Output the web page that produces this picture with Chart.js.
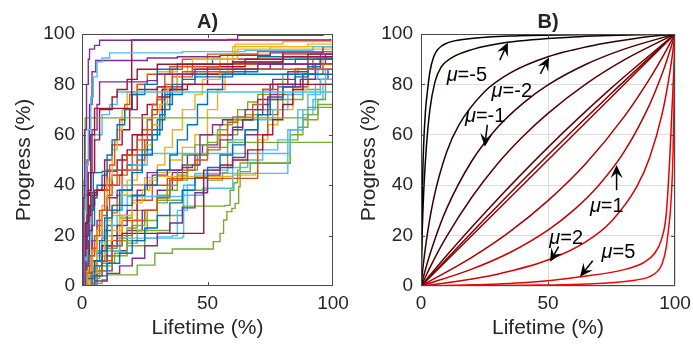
<!DOCTYPE html>
<html>
<head>
<meta charset="utf-8">
<script src="https://cdn.jsdelivr.net/npm/chart.js@4/dist/chart.umd.min.js"></script>
<style>
  html, body { margin: 0; padding: 0; background: #fff; }
  body { width: 693px; height: 347px; position: relative; overflow: hidden; }
  canvas { position: absolute; top: 0; }
  #chartA { left: 0; }
  #chartB { left: 346px; }
</style>
</head>
<body>
<canvas id="chartA" width="360" height="347"></canvas>
<canvas id="chartB" width="347" height="347"></canvas>
<script>
// ---- A) progress of each unit over its lifetime: [lifetime %, progress %] at each step ----
const trackColor = [3,5,6,3,4,3,6,5,0,1,2,6,1,0,0,3,0,2,1,3,4,6,5,1,5,5,4,4,4,2,6,3,1,2,4,0,5,6,2,3,1,0,4];
const progressTracks = [
  [[0,0],[0.5,35],[1,62],[1.8,80],[2.5,90],[3,94],[5,95.5],[7,97.5],[58,97.8],[62,99.5],[96,100]],
  [[0,0],[0.7,30],[1.5,48],[2.5,62],[3.5,75],[4.5,83],[6,89],[8,90.5],[11,92.5],[40,93],[65,93.5],[92,95],[100,97.5]],
  [[0,0],[0.5,12],[1.5,25],[2.5,38],[3.5,60],[5,70.5],[19.8,97.6],[99,98]],
  [[0,0],[1,25],[2,50],[3,72],[4,85],[5.5,89.5],[26,90.5],[38,91],[55,91.5],[75,92.5],[96,95],[100,99]],
  [[0,0],[0.4,20],[0.8,42],[1.3,66.7],[89,66.7],[90,70.9],[100,70.9]],
  [[0,0],[1,20],[2.5,45],[4,62],[6,72],[7,81],[26,81.5],[30,84],[45,86],[70,88],[95,92],[100,96]],
  [[0,0],[1,15],[2,28],[3.5,45],[5,58],[7,70],[12,75],[14,78],[18,82],[22,86],[30,88],[60,88.5],[80,91],[100,94]],
  [[0,0],[1,10],[2,25],[3.5,45],[5,60],[8,68],[11,72],[14,77],[100,77]],
  [[0,0],[1,8],[2.5,18],[3,30],[4.5,45],[8,45.5],[10,52],[12,58],[14,64],[17,70],[20,76],[25,80],[30,86],[38,88],[60,89],[80,90],[100,92]],
  [[0,0],[1,5],[3,12],[5,20],[7,30],[9,38],[11,48],[13,58],[15,66],[17,72],[19,76],[22,80],[26,84],[35,87],[55,88],[100,90]],
  [[0,0],[2,6],[4,14],[6,22],[8,32],[10,42],[12,54],[14,62],[16,70],[18,77],[22,80],[30,85],[38,88],[44,90],[60,95],[90,96],[100,98]],
  [[0,0],[1.5,10],[3,22],[4,36],[6,38],[9,50],[12,56],[16,62],[19,70],[22,78],[30,79],[40,80],[95,80],[100,83]],
  [[0,0],[2,8],[4,15],[6,24],[8,30],[11,40],[14,46],[18,52],[22,58],[26,66],[28,72],[30,79],[33,84],[40,85],[60,86],[100,88]],
  [[0,0],[2,5],[4,10],[7,18],[9,27],[12,32],[15,38],[20,45],[24,52],[28,60],[31,68],[33,76],[36,80],[45,83],[60,84],[100,86]],
  [[0,0],[5,4],[10,9],[15,13],[20,18],[25,23],[30,28],[35,33],[40,38],[45,43],[50,47],[55,52],[60,56],[65,62],[70,68],[75,74],[80,79],[85,83],[90,87],[95,90],[100,93]],
  [[0,0],[5,2],[10,5],[15,8],[20,11],[25,16],[30,21],[35,25],[40,31],[45,37],[50,44],[55,47],[60,51],[65,60],[70,68],[74,75],[80,79],[87,82],[93,88],[97,92],[100,95]],
  [[0,0],[2,3],[5,8],[8,14],[10,30],[15,32],[20,36],[25,40],[30,46],[35,52],[38,58],[42,64],[46,72],[50,78],[56,84],[65,86],[80,88],[100,90]],
  [[0,0],[3,5],[6,12],[9,18],[12,22],[16,28],[20,33],[24,38],[27,42],[30,48],[33,55],[36,62],[40,70],[45,76],[48,82],[55,92],[62,94],[100,96]],
  [[0,0],[4,4],[8,10],[12,16],[16,20],[20,26],[25,30],[30,35],[35,42],[40,46],[45,50],[50,54],[55,60],[58,65],[62,67],[68,72],[72,78],[78,80],[85,86],[92,90],[100,94]],
  [[0,0],[3,4],[6,10],[10,16],[14,24],[18,30],[22,38],[26,45],[30,46],[40,47],[44,48],[47,60],[52,64],[56,66],[60,67],[65,70],[70,74],[75,80],[82,85],[90,88],[100,92]],
  [[0,0],[3,3],[7,8],[12,12],[18,17],[22,22],[26,26],[30,33],[34,38],[38,42],[42,46],[46,52],[50,57],[54,62],[58,66],[62,70],[66,73],[70,76],[75,80],[80,84],[86,86],[92,88],[100,92]],
  [[0,0],[2,5],[5,10],[8,16],[12,20],[16,20.9],[48,20.9],[48.5,46],[55,48],[60,50],[66,54],[72,60],[76,66],[80,72],[84,78],[88,84],[93,88],[100,92]],
  [[0,0],[3,6],[6,14],[10,20],[14,28],[18,35.5],[40,36],[48,38.8],[59.4,38.8],[60,58],[65,62],[70,66],[76,70],[82,76],[88,82],[94,86],[100,90]],
  [[0,0],[4,6],[8,12],[12,18],[16,26],[22,34],[28,40],[34,42.7],[69.4,42.7],[70,60],[74,68],[78,76],[84,80],[90,84],[96,88],[100,93]],
  [[0,0],[5,8],[10,14],[15,19],[30,19.5],[36,20],[38,30],[42,40],[45,44.7],[81.5,44.7],[82,62],[86,70],[90,76],[95,82],[100,88]],
  [[0,0],[4,10],[8,20],[12,30],[16,40],[20,48],[26,52.6],[82,52.6],[83,62],[88,70],[93,80],[97,86],[100,92]],
  [[0,0],[3,1],[8,2.5],[10,4.4],[22,8.3],[29,13],[36,14.7],[51,14.7],[52.3,17.6],[55,20.9],[56.4,26.2],[57.7,29.5],[59.7,30.8],[61,32.8],[62.4,39.4],[63,45.4],[67,48.7],[82,48.7],[83,58],[86,63],[90,68],[94,74],[97,80],[100,86]],
  [[0,0],[4,4],[8,9],[13,13],[18,16],[25,22],[35,28],[40,31.7],[57,32],[59,38],[60.5,41],[62,46],[63,48.8],[82.4,48.8],[83,60],[88,66],[94,72],[100,78]],
  [[0,0],[2,5],[5,10],[9,15],[14,19],[18,23],[22,26],[26,30],[30,35],[34,40],[38,44],[42,48],[46,52],[50,55],[58,57],[100,57]],
  [[0,0],[3,8],[6,18],[9,26],[12,32],[15,36],[20,40],[25,43],[30,43.5],[60,44],[69,45],[70,58],[74,64],[78,70],[84,78],[90,86],[96,92],[100,97]],
  [[0,0],[1,8],[2,20],[3,32],[5,38],[8,40],[12,44],[16,52],[20,60],[24,68],[26,72],[30,75],[35,78],[42,80],[50,84],[60,86],[75,88],[90,92],[100,100]],
  [[0,0],[2,8],[4,18],[6,26],[8,30],[10,35],[14,38],[20,40],[28,44],[34,46],[40,48],[45,52],[50,55],[55,58],[60,62],[64,66],[68,70],[72,78],[76,82],[85,86],[95,90],[100,98]],
  [[0,0],[1,6],[3,12],[5,20],[8,28],[10,36],[12,40],[15,44],[18,46],[22,50],[25,58],[28,68],[30,74],[33,80],[36,86],[40,90],[50,92],[70,93],[100,96]],
  [[0,0],[2,4],[5,10],[9,20],[12,28],[15,36],[18,42],[22,48],[25,56],[28,64],[31,72],[34,78],[38,84],[42,88],[50,90],[62,92],[75,95],[100,99]],
  [[0,0],[5,6],[10,12],[15,18],[20,24],[25,30],[30,36],[35,42],[38,46],[40,52],[45,56],[50,60],[55,64],[60,66],[65,68],[70,70],[75,74],[80,80],[85,84],[90,88],[95,91],[100,94]],
  [[0,0],[1.5,4],[3,12],[4,24],[5,35],[6,40],[8,44],[10,45.5],[14,46],[18,48],[22,52],[26,58],[30,66],[33,72],[36,76],[40,82],[45,84],[55,85],[70,88],[85,90],[100,93]],
  [[0,0],[4,5],[8,12],[12,16],[16,18],[25,19],[40,19.5],[40.5,40],[45,44],[50,46],[58,47],[66,50],[72,54],[78,58],[83,62],[88,68],[92,74],[96,80],[100,86]],
  [[0,0],[0.5,20],[1,36],[3,37],[6,38],[10,46],[14,50],[18,54],[22,60],[28,70],[32,78],[40,84],[50,87],[65,90],[80,93],[100,96]],
  [[0,0],[5,10],[10,20],[15,28],[20,34],[25,40],[30,45],[35,50],[40,55],[45,60],[50,70],[54,78],[57,85],[58,92],[61,96],[80,97],[100,99]],
  [[0,0],[6,6],[12,14],[18,22],[24,30],[30,38],[36,45],[42,52],[48,56],[54,60],[60,63],[64,66],[68,68],[72,72],[75,76],[78,79],[90,82],[98,86],[100,92]],
  [[0,0],[2,3],[4,7],[6,13],[8,19],[10,24],[12,29],[14,36],[16,46],[20,54],[24,62],[28,70],[32,78],[36,83],[44,86],[60,90],[80,92],[100,94]],
  [[0,0],[3,6],[6,14],[9,22],[12,30],[16,38],[20,46],[24,54],[28,62],[32,70],[35,78],[38,84],[44,88],[52,90],[70,91],[100,93]],
  [[0,0],[2,6],[4,14],[6,20],[10,24],[15,27],[20,30],[30,34],[40,38],[50,42],[56,45],[58,60],[62,66],[70,70],[80,74],[88,78],[95,82],[100,88]]
];

// ---- B) model curves, from mu = -10 (top left) to mu = 10 (bottom right) ----
const modelCurves = [
  [[0,0],[0.3,20],[0.6,40],[1,55],[1.8,70],[2.5,77],[3.5,85],[5,91],[6.7,94],[10,96.3],[18,98],[35,99.2],[60,99.7],[100,100]],
  [[0,0],[0.5,22],[1.2,40],[2.1,55],[3.5,70],[5.5,81],[8,87],[12,90.5],[20,93.8],[34,96.7],[60,98.8],[100,100]],
  [[0,0],[1,9.3],[2.5,20.6],[5,34.7],[10,52.9],[15,64],[25,77.1],[35,84.5],[50,91],[70,95.9],[85,98.3],[100,100]],
  [[0,0],[2.5,9.2],[5,17.2],[10,30.5],[20,49.6],[30,62.8],[40,72.4],[50,79.8],[65,88],[80,94],[100,100]],
  [[0,0],[5,10.3],[10,19.5],[20,35.2],[30,48.3],[40,59.2],[50,68.5],[65,80.2],[80,89.7],[100,100]],
  [[0,0],[10,12],[25,28.9],[50,55],[75,78.6],[100,100]],
  [[0,0],[25,26.5],[50,52],[75,76.5],[100,100]],
  [[0,0],[50,50],[100,100]],
  [[0,0],[20,11.4],[35,21.6],[50,33.9],[65,48.75],[80,67.2],[90,82.2],[95,90.7],[100,100]],
  [[0,0],[20,6.7],[35,13.3],[50,22.2],[60,30],[70,40],[80,53.3],[90,72],[95,84.4],[97.5,91.8],[100,100]],
  [[0,0],[15,2],[30,4.7],[50,10.3],[65,17.6],[75,25.7],[85,39.5],[90,50.9],[95,68.6],[97.5,81.8],[99,91.9],[100,100]],
  [[0,0],[40,1.3],[63,3.7],[80,6.5],[88,9.5],[92,13],[94.5,18],[96.5,28],[97.9,50],[98.8,70],[99.5,85],[100,100]],
  [[0,0],[40,0.3],[65,0.8],[82,2],[90,3.7],[93.3,6],[95,9],[96.5,15],[97.5,23],[98.2,30],[99,45],[99.4,60],[99.7,80],[100,100]]
];
const muValues = [-5, -2, -1, 1, 2, 5];

// label corner and arrow (tail -> head) for each mu value, in axis units
const muNotes = [
  {at: [10.1, 81.5], tail: [31.0, 89.6], head: [34.2, 96.6]},
  {at: [27.8, 75.1], tail: [47.0, 84.2], head: [50.4, 90.7]},
  {at: [17.3, 65.0], tail: [26.1, 64.0], head: [25.1, 55.3]},
  {at: [66.5, 29.3], tail: [77.0, 38.0], head: [77.0, 48.0]},
  {at: [50.5, 16.5], tail: [54.2, 15.6], head: [50.8, 9.6]},
  {at: [71.1, 11.1], tail: [67.6, 10.0], head: [62.6, 3.7]}
];

const TEXT = '#262626';
const FONT = '"Liberation Sans", Arial, Helvetica, sans-serif';
const matlabColors = ['#0072BD', '#D95319', '#EDB120', '#7E2F8E', '#77AC30', '#4DBEEE', '#A2142F'];

Chart.defaults.font.family = FONT;
Chart.defaults.color = TEXT;

// box round the axes, inward tick marks on all four sides and the panel letter
function framePlugin(letter) {
  return {
    id: 'frame' + letter,
    afterDatasetsDraw(chart) {
      const {ctx, chartArea: a, scales} = chart;
      ctx.save();
      ctx.strokeStyle = '#4a4a4a';
      ctx.lineWidth = 1;
      ctx.beginPath();
      ctx.rect(a.left + 0.5, a.top + 0.5, a.right - a.left - 1, a.bottom - a.top - 1);
      scales.x.ticks.forEach(t => {
        let px = Math.round(scales.x.getPixelForValue(t.value)) + 0.5;
        px = Math.min(Math.max(px, a.left + 0.5), a.right - 0.5);
        ctx.moveTo(px, a.bottom); ctx.lineTo(px, a.bottom - 4);
        ctx.moveTo(px, a.top); ctx.lineTo(px, a.top + 4);
      });
      scales.y.ticks.forEach(t => {
        let py = Math.round(scales.y.getPixelForValue(t.value)) + 0.5;
        py = Math.min(Math.max(py, a.top + 0.5), a.bottom - 0.5);
        ctx.moveTo(a.left, py); ctx.lineTo(a.left + 4, py);
        ctx.moveTo(a.right, py); ctx.lineTo(a.right - 4, py);
      });
      ctx.stroke();
      ctx.fillStyle = TEXT;
      ctx.font = 'bold 20px ' + FONT;
      ctx.textAlign = 'center';
      ctx.textBaseline = 'alphabetic';
      ctx.fillText(letter + ')', (a.left + a.right) / 2, 28);
      ctx.restore();
    }
  };
}

function drawArrow(ctx, x1, y1, x2, y2) {
  const ang = Math.atan2(y2 - y1, x2 - x1);
  const c = Math.cos(ang), s = Math.sin(ang);
  const len = 13, half = 6, notch = 8;
  ctx.beginPath();
  ctx.moveTo(x1, y1);
  ctx.lineTo(x2 - notch * c, y2 - notch * s);
  ctx.stroke();
  ctx.beginPath();
  ctx.moveTo(x2, y2);
  ctx.lineTo(x2 - len * c - half * s, y2 - len * s + half * c);
  ctx.lineTo(x2 - notch * c, y2 - notch * s);
  ctx.lineTo(x2 - len * c + half * s, y2 - len * s - half * c);
  ctx.closePath();
  ctx.fill();
}

// mu labels with arrows pointing at their curves
const muPlugin = {
  id: 'muNotes',
  afterDatasetsDraw(chart) {
    const {ctx, scales: {x, y}} = chart;
    ctx.save();
    ctx.fillStyle = '#000';
    ctx.strokeStyle = '#000';
    ctx.lineWidth = 1.5;
    ctx.textBaseline = 'alphabetic';
    ctx.textAlign = 'left';
    muValues.forEach((mu, i) => {
      const n = muNotes[i];
      const px = x.getPixelForValue(n.at[0]), py = y.getPixelForValue(n.at[1]);
      ctx.font = 'italic 20px ' + FONT;
      ctx.fillText('\u03bc', px, py);
      const w = ctx.measureText('\u03bc').width;
      ctx.font = '20px ' + FONT;
      ctx.fillText('=' + mu, px + w, py);
      drawArrow(ctx,
        x.getPixelForValue(n.tail[0]), y.getPixelForValue(n.tail[1]),
        x.getPixelForValue(n.head[0]), y.getPixelForValue(n.head[1]));
    });
    ctx.restore();
  }
};

function makeScales(leftWidth, yTickPad, yTitlePad, gridOn) {
  const grid = gridOn
    ? {display: true, color: '#dcdcdc', lineWidth: 1, drawTicks: false}
    : {display: false, drawTicks: false};
  return {
    x: {
      type: 'linear', min: 0, max: 100,
      ticks: {stepSize: 50, padding: 6, maxRotation: 0, font: {size: 19}, color: TEXT},
      grid: grid,
      border: {display: false},
      title: {display: true, text: 'Lifetime (%)', color: TEXT, font: {size: 21}, padding: {top: 0, bottom: 6}},
      afterFit(s) { s.height = 61; s.paddingLeft = 0; s.paddingRight = 0; }
    },
    y: {
      type: 'linear', min: 0, max: 100,
      ticks: {stepSize: 20, padding: yTickPad, font: {size: 19}, color: TEXT},
      grid: grid,
      border: {display: false},
      title: {display: true, text: 'Progress (%)', color: TEXT, font: {size: 21}, padding: {top: yTitlePad, bottom: 0}},
      afterFit(s) { s.width = leftWidth; s.paddingTop = 0; s.paddingBottom = 0; }
    }
  };
}

const baseOptions = {
  responsive: false,
  animation: false,
  events: [],
  plugins: {legend: {display: false}, tooltip: {enabled: false}, title: {display: false}}
};

new Chart(document.getElementById('chartA'), {
  type: 'line',
  data: {
    datasets: progressTracks.map((track, i) => ({
      data: track.map(([x, y]) => ({x, y})),
      borderColor: matlabColors[trackColor[i]],
      borderWidth: 1.4,
      pointRadius: 0,
      stepped: 'before',
      fill: false
    }))
  },
  options: Object.assign({}, baseOptions, {
    layout: {padding: {top: 34, right: 27, bottom: 0, left: 0}},
    scales: makeScales(82, 7, 12, false)
  }),
  plugins: [framePlugin('A')]
});

new Chart(document.getElementById('chartB'), {
  type: 'line',
  data: {
    datasets: modelCurves.map((curve, i) => ({
      data: curve.map(([x, y]) => ({x, y})),
      borderColor: 'rgb(' + Math.round(255 * i / (modelCurves.length - 1)) + ',0,0)',
      borderWidth: 1.5,
      pointRadius: 0,
      cubicInterpolationMode: 'monotone',
      fill: false
    }))
  },
  options: Object.assign({}, baseOptions, {
    layout: {padding: {top: 34, right: 18, bottom: 0, left: 0}},
    scales: makeScales(75, 8, 11, true)
  }),
  plugins: [framePlugin('B'), muPlugin]
});
</script>
</body>
</html>
